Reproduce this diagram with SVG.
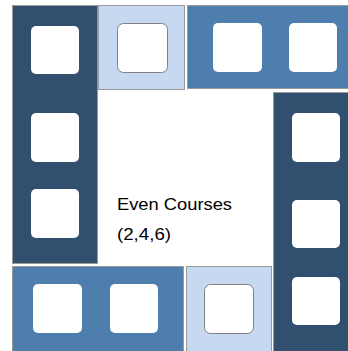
<svg xmlns="http://www.w3.org/2000/svg" width="348" height="351" viewBox="0 0 348 351">
<style>
.dark{fill:#31506f;stroke:#9a9a9a;stroke-width:1}
.mid{fill:#4e7eae;stroke:#9a9a9a;stroke-width:1}
.light{fill:#c6d9f0;stroke:#9a9a9a;stroke-width:1}
.hole{fill:#ffffff;stroke:none}
.holeL{fill:#ffffff;stroke:#808080;stroke-width:1}
.lbl{font-family:"Liberation Sans",Arial,sans-serif;font-size:17px;fill:#000}
</style>
<rect width="348" height="351" fill="#ffffff"/>
<g id="left-column">
<rect class="dark" x="12.5" y="5.5" width="85" height="258"/>
<rect class="hole" x="31" y="26" width="48" height="48" rx="5"/>
<rect class="hole" x="31" y="113" width="48" height="49" rx="5"/>
<rect class="hole" x="31" y="189" width="48" height="49" rx="5"/>
</g>
<g id="top-light">
<rect class="light" x="98.5" y="5.5" width="86" height="84"/>
<rect class="holeL" x="117.5" y="23.5" width="50" height="49" rx="6"/>
</g>
<g id="top-right">
<rect class="mid" x="187.5" y="5.5" width="161" height="83"/>
<rect class="hole" x="213" y="23" width="49" height="49" rx="5"/>
<rect class="hole" x="289" y="23" width="48" height="49" rx="5"/>
</g>
<g id="right-column">
<rect class="dark" x="273.5" y="92.5" width="75" height="259"/>
<rect class="hole" x="292" y="113" width="48" height="49" rx="5"/>
<rect class="hole" x="292" y="200" width="48" height="48" rx="5"/>
<rect class="hole" x="292" y="277" width="48" height="48" rx="5"/>
</g>
<g id="bottom-left">
<rect class="mid" x="12.5" y="266.5" width="171" height="85"/>
<rect class="hole" x="33" y="284" width="49" height="49" rx="5"/>
<rect class="hole" x="110" y="284" width="48" height="49" rx="5"/>
</g>
<g id="bottom-light">
<rect class="light" x="186.5" y="266.5" width="85" height="85"/>
<rect class="holeL" x="204.5" y="284.5" width="49" height="49" rx="6"/>
</g>
<g id="label">
<text class="lbl" x="117" y="210" textLength="115" lengthAdjust="spacingAndGlyphs">Even Courses</text>
<text class="lbl" x="117" y="240" textLength="54" lengthAdjust="spacingAndGlyphs">(2,4,6)</text>
</g>
<g id="connectors"></g>
</svg>
